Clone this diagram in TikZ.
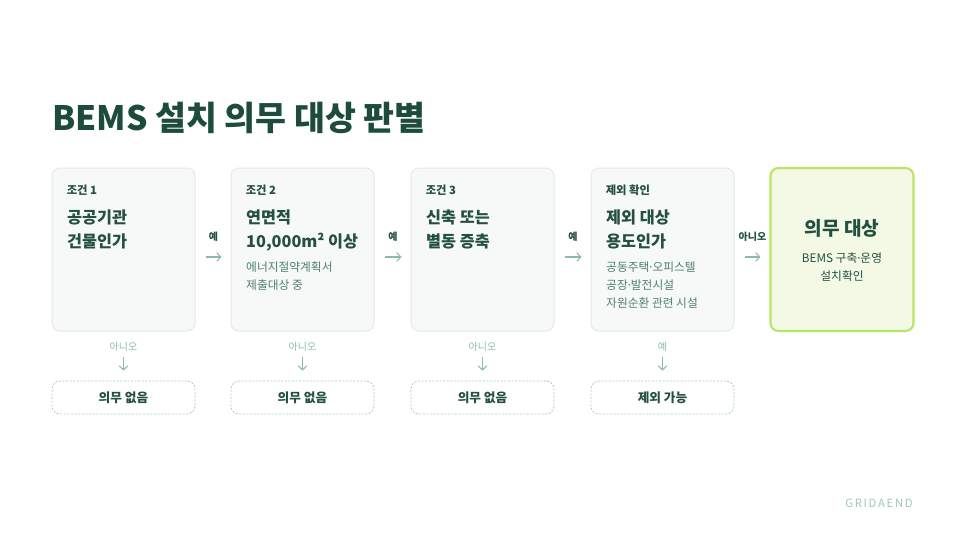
\documentclass[tikz,border=0pt]{standalone}
\usepackage{fontspec}
\setmainfont{Noto Sans CJK KR}
\newfontfamily\latinfont{Noto Sans}
\newcommand{\mdot}{{\latinfont ·}}
\usepackage{tikz}
\usetikzlibrary{arrows.meta}

\definecolor{titlegreen}{HTML}{1D4B3C}
\definecolor{darkgreen}{HTML}{23503F}
\definecolor{subgreen}{HTML}{4F7F6B}
\definecolor{arrowgreen}{HTML}{8CBCA6}
\definecolor{cardfill}{HTML}{F7F9F8}
\definecolor{cardline}{HTML}{E4EAE7}
\definecolor{goalfill}{HTML}{F4F9E6}
\definecolor{goalline}{HTML}{B9E567}
\definecolor{dashline}{HTML}{A9CDBF}
\definecolor{brandgray}{HTML}{A0C8B8}

\tikzset{
  card/.style = {draw = cardline, fill = cardfill, line width = 0.75pt, rounded corners = 6pt,
    minimum width = 107.25pt, minimum height = 122.25pt, inner sep = 0pt},
  goalcard/.style = {card, draw = goalline, fill = goalfill, line width = 1.6pt},
  endcard/.style = {draw = dashline, dashed, dash pattern = on 1.5pt off 1.2pt, line width = 0.6pt,
    rounded corners = 6pt, minimum width = 107.25pt, minimum height = 24.75pt, inner sep = 0pt,
    font = \fontsize{9.5}{11}\selectfont\bfseries, text = darkgreen},
  steplabel/.style = {anchor = west, inner sep = 0pt, font = \fontsize{8.5}{10}\selectfont\bfseries, text = darkgreen},
  question/.style = {anchor = north west, align = left, font = \fontsize{12.2}{18}\selectfont\bfseries, text = darkgreen},
  note/.style = {anchor = north west, align = left, font = \fontsize{8.8}{13.5}\selectfont, text = subgreen},
  flow/.style = {draw = arrowgreen, line width = 0.8pt, -{Straight Barb[length = 3pt, width = 6.5pt]}},
  yeslabel/.style = {font = \fontsize{7.5}{9}\selectfont\bfseries, text = darkgreen},
  nolabel/.style = {font = \fontsize{7.5}{9}\selectfont, text = arrowgreen}
}

\begin{document}
\begin{tikzpicture}[x = 0.75pt, y = -0.75pt]
\useasboundingbox[fill = white] (0,0) rectangle (966,543);

% title
\node[anchor = west, font = \fontsize{25.2}{29}\selectfont\bfseries, text = titlegreen, inner sep = 0pt]
  (title) at (52,118) {BEMS 설치 의무 대상 판별};

% condition cards
\node[card] (c1) at (123.5,249.5) {};
\node[card] (c2) at (302.5,249.5) {};
\node[card] (c3) at (482.5,249.5) {};
\node[card] (c4) at (662.5,249.5) {};
\node[goalcard] (c5) at (842,249.5) {};

\node[steplabel] (s1) at ([shift = {(15,23)}]c1.north west) {조건 1};
\node[question] (q1) at ([shift = {(11,38)}]c1.north west) {공공기관\\건물인가};

\node[steplabel] (s2) at ([shift = {(15,23)}]c2.north west) {조건 2};
\node[question] (q2) at ([shift = {(11,38)}]c2.north west) {연면적\\10,000m² 이상};
\node[note] (d2) at ([shift = {(11,90)}]c2.north west) {에너지절약계획서\\제출대상 중};

\node[steplabel] (s3) at ([shift = {(15,23)}]c3.north west) {조건 3};
\node[question] (q3) at ([shift = {(11,38)}]c3.north west) {신축 또는\\별동 증축};

\node[steplabel] (s4) at ([shift = {(15,23)}]c4.north west) {제외 확인};
\node[question] (q4) at ([shift = {(11,38)}]c4.north west) {제외 대상\\용도인가};
\node[note] (d4) at ([shift = {(11,90)}]c4.north west) {공동주택\mdot 오피스텔\\공장\mdot 발전시설\\자원순환 관련 시설};

\node[font = \fontsize{14.3}{16}\selectfont\bfseries, text = darkgreen] (g5) at (842,228) {의무 대상};
\node[align = center, font = \fontsize{8.8}{13.5}\selectfont, text = darkgreen] (d5) at (842,267) {BEMS 구축\mdot 운영\\설치확인};

% end cards
\node[endcard] (n1) at (123.5,397.5) {의무 없음};
\node[endcard] (n2) at (302.5,397.5) {의무 없음};
\node[endcard] (n3) at (482.5,397.5) {의무 없음};
\node[endcard] (n4) at (662.5,397.5) {제외 가능};

% arrows
\draw[flow] ([shift = {(10,7.5)}]c1.east) -- ([shift = {(-9,7.5)}]c2.west) node[yeslabel, midway, yshift = 15pt] {예};
\draw[flow] ([shift = {(10,7.5)}]c2.east) -- ([shift = {(-9,7.5)}]c3.west) node[yeslabel, midway, yshift = 15pt] {예};
\draw[flow] ([shift = {(10,7.5)}]c3.east) -- ([shift = {(-9,7.5)}]c4.west) node[yeslabel, midway, yshift = 15pt] {예};
\draw[flow] ([shift = {(10,7.5)}]c4.east) -- ([shift = {(-9,7.5)}]c5.west) node[yeslabel, midway, yshift = 15pt] {아니오};

\draw[flow] ([shift = {(0,25)}]c1.south) -- ([shift = {(0,-10)}]n1.north) node[nolabel, pos = 0, yshift = 7pt] {아니오};
\draw[flow] ([shift = {(0,25)}]c2.south) -- ([shift = {(0,-10)}]n2.north) node[nolabel, pos = 0, yshift = 7pt] {아니오};
\draw[flow] ([shift = {(0,25)}]c3.south) -- ([shift = {(0,-10)}]n3.north) node[nolabel, pos = 0, yshift = 7pt] {아니오};
\draw[flow] ([shift = {(0,25)}]c4.south) -- ([shift = {(0,-10)}]n4.north) node[nolabel, pos = 0, yshift = 7pt] {예};

% brand
\node[anchor = east, inner sep = 0pt, font = \fontsize{8.5}{10}\selectfont\addfontfeature{LetterSpace = 15}, text = brandgray]
  (brand) at (913,503) {GRIDAEND};
\end{tikzpicture}
\end{document}
